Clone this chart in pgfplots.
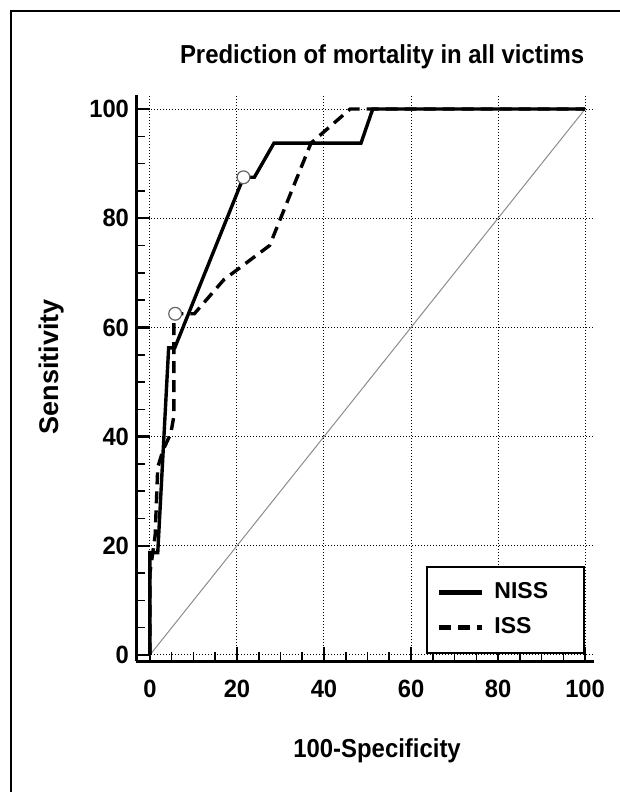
\documentclass[border=0pt]{standalone}
\usepackage{fontspec}
\setmainfont{Liberation Sans}
\newfontfamily\cond[FakeStretch=0.92]{Liberation Sans}
\newfontfamily\condb[FakeStretch=0.95]{Liberation Sans}
\usepackage{pgfplots}
\pgfplotsset{compat=1.18}
\usepackage{pgfplotstable}

\pgfplotstableread{
x y
0 0
0 18.75
1.8 18.75
4.3 56.25
5.7 56.25
21.5 87.5
24 87.5
28.5 93.75
48.5 93.75
51.2 100
100 100
}\niss

\pgfplotstableread{
x y
0 0
0 15
1.2 21.9
1.8 34.4
3 37.5
4.8 40.6
5.5 43.75
5.5 62.5
10.2 62.5
17 68.75
27.5 75
37 93.75
46 100
100 100
}\iss

\begin{document}
\begin{tikzpicture}
\begin{axis}[
    at={(0pt,0pt)}, anchor=south west,
    scale only axis,
    width=228.9pt, height=282.8pt,
    xmin=-3.2, xmax=102, ymin=-1.1, ymax=102.5,
    axis lines=left,
    axis line style={-, line width=1.5pt},
    xtick={0,20,...,100}, ytick={0,20,...,100},
    minor x tick num=3, minor y tick num=3,
    tick align=inside,
    major tick length=7pt, minor tick length=4.5pt,
    major tick style={black, line width=1.2pt},
    minor tick style={black, line width=0.8pt},
    grid=major,
    major grid style={black, line width=0.5pt, dash pattern=on 0.5pt off 1pt},
    /pgf/number format/assume math mode=true,
    ticklabel style={font=\condb\bfseries\fontsize{12.5}{14}\selectfont},
    xticklabel style={yshift=-6pt},
    title={Prediction of mortality in all victims},
    title style={at={(axis description cs:0.5375,1.036)}, anchor=base,
        font=\cond\bfseries\fontsize{13}{15}\selectfont},
    xlabel={100-Specificity},
    xlabel style={at={(axis description cs:0.5265,-0.170)}, anchor=base,
        font=\cond\bfseries\fontsize{13}{15}\selectfont},
    ylabel={Sensitivity},
    ylabel style={at={(axis description cs:-0.1835,0.52)}, anchor=center,
        font=\bfseries\fontsize{13.5}{15}\selectfont},
    clip=false,
    legend image code/.code={\draw[#1, line width=2.2pt] (0pt,0pt) -- (21.5pt,0pt);},
    legend style={at={(axis cs:100,0.2)}, anchor=south east,
        draw=black, line width=1pt, fill=white,
        font=\bfseries\fontsize{11.5}{13}\selectfont,
        inner xsep=5pt, inner ysep=6pt, row sep=4pt,
        cells={anchor=west}},
]
\addplot[forget plot, color=black!45, line width=0.5pt] coordinates {(0,0) (100,100)};
\addplot[black, line width=1.7pt, line join=miter] table[x=x,y=y] {\niss};
\addlegendentry{\hspace*{3pt}NISS\hspace*{11pt}}
\addplot[black, line width=1.7pt, dash pattern=on 6pt off 3.5pt] table[x=x,y=y] {\iss};
\addlegendentry{\hspace*{3pt}ISS}
\addplot[forget plot, only marks, mark=*, mark size=3.2pt,
    mark options={fill=white, draw=black!60, line width=0.6pt, solid}]
    coordinates {(21.5,87.5) (5.8,62.5)};
\end{axis}
\draw[line width=1pt] (-62.5pt,-70pt) -- (-62.5pt,325pt) -- (250pt,325pt);
\pgfresetboundingbox
\useasboundingbox (-68pt,-65.5pt) rectangle (242pt,330.5pt);
\end{tikzpicture}
\end{document}
